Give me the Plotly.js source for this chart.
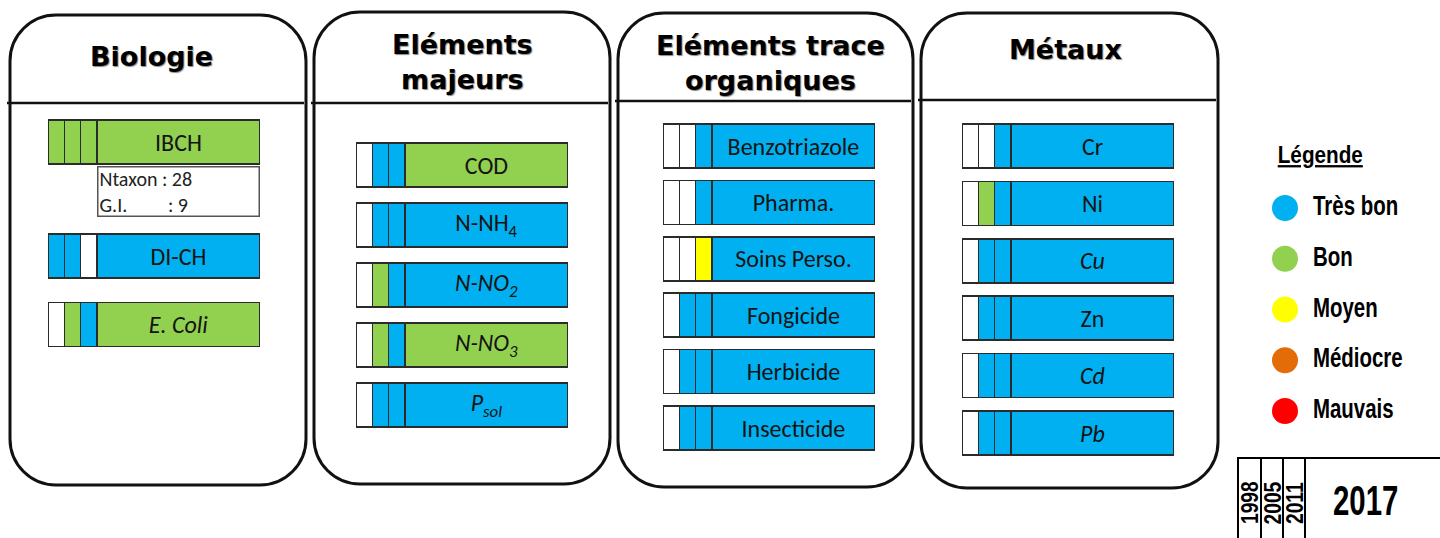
<!DOCTYPE html>
<html>
<head>
<meta charset="utf-8">
<script src="https://cdn.plot.ly/plotly-3.0.1.min.js"></script>
<style>
  html, body { margin: 0; padding: 0; background: #fff; }
  #chart { width: 1440px; height: 538px; }
</style>
</head>
<body>
<div id="chart"></div>
<script>
// Campaign years: three narrow segments then the wide 2017 one
const years = ['1998', '2005', '2011', '2017'];

// Quality classes
const classes = ['Très bon', 'Bon', 'Moyen', 'Médiocre', 'Mauvais'];
const classCodes = ['TB', 'B', 'M', 'Me', 'Ma'];
const classColors = ['#00B0F0', '#92D050', '#FFFF00', '#E36C09', '#FF0000'];

// Panel titles
const panelTitles = ['Biologie', 'Eléments<br>majeurs', 'Eléments trace<br>organiques', 'Métaux'];

// Status per indicator, one entry per year ('' = not measured)
const bioLabels = ['IBCH', 'DI-CH', '<i>E. Coli</i>'];
const bioStatus = [
    ['B', 'B', 'B', 'B'],
    ['TB', 'TB', '', 'TB'],
    ['', 'B', 'TB', 'B']
];
const ibchInfo = ['Ntaxon : 28', 'G.I.\u00a0\u00a0\u00a0\u00a0\u00a0\u00a0\u00a0\u00a0\u00a0: 9'];

const majLabels = ['COD', 'N-NH<sub>4</sub>', '<i>N-NO<sub>2</sub></i>', '<i>N-NO<sub>3</sub></i>', '<i>P<sub>sol</sub></i>'];
const majStatus = [
    ['', 'TB', 'TB', 'B'],
    ['', 'TB', 'TB', 'TB'],
    ['', 'B', 'TB', 'TB'],
    ['', 'B', 'TB', 'B'],
    ['', 'TB', 'TB', 'TB']
];

const orgLabels = ['Benzotriazole', 'Pharma.', 'Soins Perso.', 'Fongicide', 'Herbicide', 'Insecticide'];
const orgStatus = [
    ['', '', 'TB', 'TB'],
    ['', '', 'TB', 'TB'],
    ['', '', 'M', 'TB'],
    ['', 'TB', 'TB', 'TB'],
    ['', 'TB', 'TB', 'TB'],
    ['', 'TB', 'TB', 'TB']
];

const metLabels = ['Cr', 'Ni', '<i>Cu</i>', 'Zn', '<i>Cd</i>', '<i>Pb</i>'];
const metStatus = [
    ['', '', 'TB', 'TB'],
    ['', 'B', 'TB', 'TB'],
    ['', 'TB', 'TB', 'TB'],
    ['', 'TB', 'TB', 'TB'],
    ['', 'TB', 'TB', 'TB'],
    ['', 'TB', 'TB', 'TB']
];

// ---- layout constants (pixels) ----
const W = 1440, H = 538;
const segW = [1, 1, 1, 10];          // relative width of each year segment
const barPx = 212;                    // full bar length
const barH = 44;                      // bar thickness
const panels = [
    { labels: bioLabels, status: bioStatus, box: [10, 15, 306, 485], head: 103, titleX: 151, titleY: 57, barX: 48, c0: 142, pitch: 57, rows: [0, 2, 3.2] },
    { labels: majLabels, status: majStatus, box: [314, 12, 610, 484], head: 103, titleX: 462, titleY: 62, barX: 356, c0: 165, pitch: 60 },
    { labels: orgLabels, status: orgStatus, box: [618, 13, 913, 487], head: 101, titleX: 770, titleY: 63, barX: 663, c0: 146, pitch: 56.4 },
    { labels: metLabels, status: metStatus, box: [921, 13, 1218, 488], head: 100, titleX: 1065, titleY: 50, barX: 962, c0: 146, pitch: 57.4 }
];

const textFont = 'Carlito, Lato, "Open Sans", sans-serif';
const narrowFont = '"Liberation Sans", Arial, sans-serif';
const titleFont = '"DejaVu Sans", Arial, sans-serif';

const px = x => x / W;
const py = y => 1 - y / H;

function colorOf(code) {
    const i = classCodes.indexOf(code);
    return i < 0 ? '#FFFFFF' : classColors[i];
}

// rounded rectangle as a path in paper coordinates
function roundRect(x0, y0, x1, y1, r) {
    const k = 0.5523 * r;
    const P = (x, y) => px(x) + ',' + py(y);
    return 'M' + P(x0 + r, y0) + ' L' + P(x1 - r, y0) +
        ' C' + P(x1 - r + k, y0) + ' ' + P(x1, y0 + r - k) + ' ' + P(x1, y0 + r) +
        ' L' + P(x1, y1 - r) +
        ' C' + P(x1, y1 - r + k) + ' ' + P(x1 - r + k, y1) + ' ' + P(x1 - r, y1) +
        ' L' + P(x0 + r, y1) +
        ' C' + P(x0 + r - k, y1) + ' ' + P(x0, y1 - r + k) + ' ' + P(x0, y1 - r) +
        ' L' + P(x0, y0 + r) +
        ' C' + P(x0, y0 + r - k) + ' ' + P(x0 + r - k, y0) + ' ' + P(x0 + r, y0) + ' Z';
}

const data = [];
const shapes = [];
const annotations = [];
const layout = {
    width: W, height: H,
    margin: { l: 0, r: 0, t: 0, b: 0 },
    paper_bgcolor: '#fff', plot_bgcolor: 'rgba(0,0,0,0)',
    showlegend: false,
    barmode: 'stack',
    hovermode: false
};

const segStart = segW.map((w, k) => segW.slice(0, k).reduce((a, b) => a + b, 0));
const segTotal = segW.reduce((a, b) => a + b, 0);

panels.forEach((p, i) => {
    const ax = i + 1;
    const rows = p.rows || p.labels.map((_, j) => j);
    const maxRow = Math.max(...rows);
    const top = p.c0 - 0.5 * p.pitch;
    const bottom = p.c0 + (maxRow + 0.5) * p.pitch;

    layout['xaxis' + ax] = {
        domain: [px(p.barX), px(p.barX + barPx)], range: [0, segTotal],
        visible: false, fixedrange: true, anchor: 'y' + ax
    };
    layout['yaxis' + ax] = {
        domain: [py(bottom), py(top)], range: [maxRow + 0.5, -0.5],
        visible: false, fixedrange: true, anchor: 'x' + ax
    };

    years.forEach((yr, k) => {
        const tr = {
            type: 'bar', orientation: 'h', name: yr,
            xaxis: 'x' + ax, yaxis: 'y' + ax,
            y: rows,
            x: rows.map(() => segW[k]),
            width: barH / p.pitch,
            marker: {
                color: p.status.map(r => colorOf(r[k])),
                line: { color: '#2b2b2b', width: 1.5 }
            },
            hoverinfo: 'skip'
        };
        if (k === years.length - 1) {
            tr.text = p.labels;
            tr.textposition = 'inside';
            tr.insidetextanchor = 'middle';
            tr.textfont = { family: textFont, size: 24, color: '#141414' };
        }
        data.push(tr);
    });

    // frame and header line
    const b = p.box;
    shapes.push({
        type: 'path', xref: 'paper', yref: 'paper',
        path: roundRect(b[0], b[1], b[2], b[3], 46),
        line: { color: '#111', width: 3 }
    });
    shapes.push({
        type: 'line', xref: 'paper', yref: 'paper',
        x0: px(b[0] - 3), x1: px(b[2] - 2), y0: py(p.head), y1: py(p.head),
        line: { color: '#111', width: 2.5 }
    });
    annotations.push({
        xref: 'paper', yref: 'paper',
        x: px(p.titleX), y: py(p.titleY),
        xanchor: 'center', yanchor: 'middle',
        text: panelTitles[i], showarrow: false,
        font: { family: titleFont, size: 27, color: '#000', weight: 'bold', shadow: '1px 1px 1px #888' }
    });
});

// IBCH details box under the wide segment
annotations.push({
    xref: 'x1', yref: 'y1',
    x: segStart[3], y: barH / 2 / panels[0].pitch + 0.03,
    xanchor: 'left', yanchor: 'top',
    width: 158, height: 46, borderpad: 1,
    bordercolor: '#555', borderwidth: 1.5, bgcolor: '#fff',
    align: 'left', valign: 'middle', showarrow: false,
    text: ibchInfo.join('<br>'),
    font: { family: textFont, size: 20, color: '#222' }
});

// ---- legend of the classes ----
const legRows = classes.map((_, j) => j);
const legC0 = 208, legPitch = 50.75;
layout.xaxis5 = { domain: [px(1285), px(1313)], range: [0, 1], visible: false, fixedrange: true, anchor: 'y5' };
layout.yaxis5 = {
    domain: [py(legC0 + 4.5 * legPitch), py(legC0 - 0.5 * legPitch)], range: [4.5, -0.5],
    visible: false, fixedrange: true, anchor: 'x5'
};
data.push({
    type: 'scatter', mode: 'markers', xaxis: 'x5', yaxis: 'y5',
    x: legRows.map(() => 0), y: legRows,
    marker: { size: 26, color: classColors, line: { width: 0 } },
    cliponaxis: false, hoverinfo: 'skip'
});
data.push({
    type: 'scatter', mode: 'text', xaxis: 'x5', yaxis: 'y5',
    x: legRows.map(() => 1), y: legRows,
    text: classes, textposition: 'middle right',
    textfont: { family: narrowFont, size: 28, color: '#000', weight: 'bold' },
    cliponaxis: false, hoverinfo: 'skip'
});
const narrowNotes = [];   // [annotation index, x-squeeze, origin]
narrowNotes.push([annotations.length, 0.9, 'center']);
annotations.push({
    xref: 'paper', yref: 'paper', x: px(1320), y: py(155),
    xanchor: 'center', yanchor: 'middle', showarrow: false,
    text: '<u>Légende</u>',
    font: { family: narrowFont, size: 23, color: '#000', weight: 'bold' }
});

// ---- year key (bottom right) ----
const keyW = [1, 1, 1, 8];
layout.xaxis6 = { domain: [px(1237), 1], range: [-0.05, 9], visible: false, fixedrange: true, anchor: 'y6' };
layout.yaxis6 = { domain: [0, py(456)], range: [-0.4, 0.52], visible: false, fixedrange: true, anchor: 'x6' };
years.forEach((yr, k) => {
    data.push({
        type: 'bar', orientation: 'h', xaxis: 'x6', yaxis: 'y6',
        y: [0], x: [keyW[k]], width: 1,
        marker: { color: '#fff', line: { color: '#000', width: 2 } },
        hoverinfo: 'skip'
    });
    narrowNotes.push([annotations.length, k < 3 ? 0.8 : 0.7, 'center']);
    annotations.push({
        xref: 'x6', yref: 'paper',
        x: k < 3 ? k + 0.5 : 5.7, y: py(k < 3 ? 503 : 500),
        xanchor: 'center', yanchor: 'middle', showarrow: false,
        textangle: k < 3 ? -90 : 0,
        text: yr,
        font: { family: narrowFont, size: k < 3 ? 24 : 42, color: '#000', weight: 'bold' }
    });
});

layout.shapes = shapes;
layout.annotations = annotations;

Plotly.newPlot('chart', data, layout, { staticPlot: true, displayModeBar: false }).then(gd => {
    // no condensed font installed: squeeze the "Arial Narrow" texts horizontally
    const squeeze = (el, s, origin) => {
        el.style.transformBox = 'fill-box';
        el.style.transformOrigin = origin;
        el.style.transform = 'scaleX(' + s + ')';
    };
    gd.querySelectorAll('.scatterlayer .textpoint text').forEach(el => squeeze(el, 0.73, 'left center'));
    narrowNotes.forEach(([idx, s, origin]) => {
        const el = gd.querySelector('.annotation[data-index="' + idx + '"] text.annotation-text');
        if (el) squeeze(el, s, origin);
    });
});
</script>
</body>
</html>
